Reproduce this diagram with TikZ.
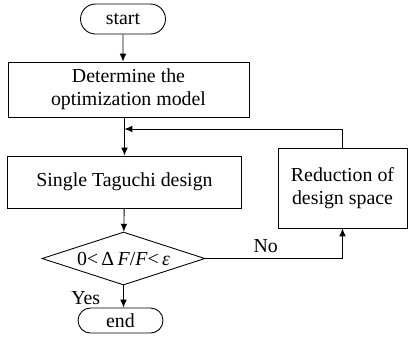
\documentclass[tikz,border=0pt]{standalone}
\usepackage{fontspec}
\setmainfont{Liberation Serif}
\usetikzlibrary{shapes.misc, shapes.geometric, arrows.meta, positioning}
\usetikzlibrary{calc}

\begin{document}
\begin{tikzpicture}[x=0.02cm, y=-0.02cm, line width=0.5pt,
		>={Latex[length=4.5pt,width=3.8pt]},
		font=\fontsize{11.3}{13}\selectfont,
		term/.style={draw, rounded rectangle, inner sep=0pt},
		proc/.style={draw, align=center, inner sep=0pt},
		decide/.style={draw, diamond, aspect=3, inner sep=0pt}]
		\useasboundingbox (0,0) rectangle (408,343);
		\draw (123,19) node[term, minimum width=1.7cm, minimum height=0.6cm] (st){start}
		(128.5,89.5) node[proc, minimum width=4.82cm, minimum height=1.1cm] (det) {Determine the\\optimization model}
		(124.5,182) node[proc, minimum width=4.68cm, minimum height=1.04cm] (tag) {Single Taguchi design}
		(123.5,258.5) node[decide, minimum width=3.26cm, minimum height=1.06cm] (chk) {0<\,Δ\,\textit{F}/\textit{F}<\,\textit{ε}}
		(342.5,188) node[proc, minimum width=2.58cm, minimum height=1.6cm] (red) {Reduction of\\design space}
		(120.5,320.5) node[term, minimum width=1.7cm, minimum height=0.5cm] (en) {end};
		\coordinate (back) at (124.5,129);

		\draw[->] (st) -- (st |- det.north);
		\draw[->] (tag.north |- det.south) -- (tag);
		\draw[->] (red.north) |- (back);
		\draw[->] (tag) -- (chk);
		\draw[->] (chk.east) -| node[pos=0.22, above] (no) {No} (red.south);
		\draw[->] (chk.south) -- node[pos=0.57, left, xshift=-0.34cm] (yes) {Yes} (chk.south |- en.north);
	\end{tikzpicture}
\end{document}
